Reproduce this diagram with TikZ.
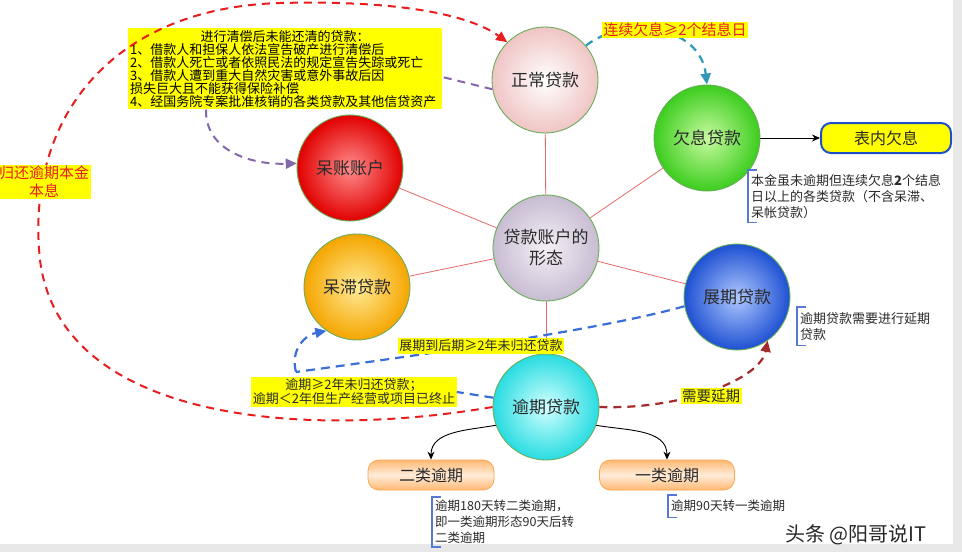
\documentclass[tikz,border=0pt]{standalone}
\usepackage{fontspec}
\setmainfont{Noto Sans CJK SC}
\usetikzlibrary{calc,arrows.meta}
\definecolor{txt}{HTML}{2A2A2A}
\definecolor{spoke}{HTML}{E46A6A}
\definecolor{rimg}{HTML}{6AAE5A}
\definecolor{yel}{HTML}{FFFF00}
\definecolor{redd}{HTML}{E81E1E}
\definecolor{teal2}{HTML}{2E98B8}
\definecolor{purp}{HTML}{8466AA}
\definecolor{blued}{HTML}{3A6ED8}
\definecolor{brownr}{HTML}{A52A2A}
\definecolor{brk}{HTML}{5878D8}
\definecolor{boxblue}{HTML}{2050C8}
\begin{document}
\begin{tikzpicture}[x=1pt,y=-1pt,
  orb/.style={circle, minimum size=106pt, inner sep=0pt, draw=rimg, line width=0.9pt,
     text=txt, align=center, font=\fontsize{17}{21}\selectfont},
  lbl/.style={fill=yel, inner sep=1.5pt, align=center, text=txt},
  ann/.style={anchor=north west, align=left, inner sep=3pt, text=txt, font=\fontsize{12.5}{16}\selectfont},
  brk/.style={draw=brk, line width=1.2pt},
  pill/.style={rounded corners=11pt, minimum height=30pt, draw=orange!70, line width=0.8pt,
     top color=orange!55, bottom color=orange!55, middle color=orange!15, text=txt,
     font=\fontsize{16}{18}\selectfont},
  spk/.style={draw=spoke, line width=0.8pt},
  tip/.style={-{Triangle[length=11pt,width=10pt]}}
]
\useasboundingbox (0,0) rectangle (962,552);
\fill[white] (0,0) rectangle (962,552);
\fill[gray!18] (0,544) rectangle (962,552);
\fill[gray!18] (953,0) rectangle (962,552);

% circles
\node[orb, inner color=white, outer color={rgb,255:red,240;green,196;blue,196}] (zc) at (545,80) {正常贷款};
\node[orb, inner color={rgb,255:red,200;green,250;blue,160}, outer color={rgb,255:red,60;green,205;blue,30}] (qx) at (707,138) {欠息贷款};
\node[orb, inner color={rgb,255:red,255;green,140;blue,140}, outer color={rgb,255:red,225;green,0;blue,0}] (ca) at (350,168) {呆账账户};
\node[orb, inner color={rgb,255:red,245;green,240;blue,246}, outer color={rgb,255:red,200;green,188;blue,210}] (xt) at (546,248) {贷款账户的\\形态};
\node[orb, inner color={rgb,255:red,255;green,235;blue,150}, outer color={rgb,255:red,245;green,165;blue,0}] (zd) at (357,287) {呆滞贷款};
\node[orb, inner color={rgb,255:red,175;green,200;blue,255}, outer color={rgb,255:red,30;green,80;blue,210}] (zq) at (737,297) {展期贷款};
\node[orb, inner color={rgb,255:red,210;green,255;blue,255}, outer color={rgb,255:red,40;green,220;blue,225}] (yq) at (546,407) {逾期贷款};

% spokes
\foreach \t in {zc,qx,ca,zd,zq,yq} \draw[spk] (xt) -- (\t);

% boxes
\node[fill=yel, inner sep=2pt, text width=310pt, align=left, text=black,
  font=\fontsize{13}{13}\selectfont, anchor=north west] (tb) at (128,28)
  {\makebox[\linewidth]{进行清偿后未能还清的贷款：}\\
   1、借款人和担保人依法宣告破产进行清偿后\\
   2、借款人死亡或者依照民法的规定宣告失踪或死亡\\
   3、借款人遭到重大自然灾害或意外事故后因\\
   损失巨大且不能获得保险补偿\\
   4、经国务院专案批准核销的各类贷款及其他信贷资产};
\node[lbl, font=\fontsize{13}{14}\selectfont] (yl) at (354,392)
  {逾期≥2年未归还贷款；\\逾期＜2年但生产经营或项目已终止};
\node[rounded corners=10pt, minimum width=130pt, minimum height=30pt, fill=yel, draw=boxblue,
  line width=2pt, text=txt, font=\fontsize{16}{18}\selectfont] (bn) at (886,138) {表内欠息};
\node[pill, minimum width=126pt] (e2) at (431,475) {二类逾期};
\node[pill, minimum width=135pt] (e1) at (667,475) {一类逾期};
\coordinate (mj) at (296,372);

% connectors
\draw[draw=redd, line width=2pt, dash pattern=on 8pt off 6pt, tip, color=redd]
  (yq.west) .. controls (300,440) and (60,420) .. (40,260)
            .. controls (25,120) and (110,8) .. (280,3)
            .. controls (400,0) and (470,15) .. (zc.north west);
\draw[purp, line width=2pt, dash pattern=on 8pt off 6pt] (zc.190) -- (tb.-3);
\draw[purp, line width=2pt, dash pattern=on 8pt off 6pt, tip]
  ($(tb.south west)+(78,0)$) .. controls (205,150) and (250,165) .. (ca.175);
\draw[teal2, line width=2.2pt, dash pattern=on 8pt off 6pt, tip]
  (zc.40) .. controls (625,15) and (700,25) .. (qx.north);
\draw[black, line width=1pt, -{Stealth[length=8pt,width=7pt]}] (qx.east) -- (bn.west);
\draw[brownr, line width=2.2pt, dash pattern=on 8pt off 6pt, tip]
  (yq.east) .. controls (680,410) and (760,380) .. (zq.-55);
\draw[blued, line width=2.2pt, dash pattern=on 9pt off 6pt]
  (zq.190) .. controls (600,330) and (420,355) .. (mj);
\draw[blued, line width=2.2pt, dash pattern=on 9pt off 6pt] (yq.170) -- (yl.east);
\draw[blued, line width=2.2pt, dash pattern=on 9pt off 6pt, tip]
  (mj) .. controls (290,350) and (305,335) .. (zd.-125);
\draw[black, line width=0.9pt, -{Stealth[length=8pt,width=7pt]}] (yq.-160) to[out=190,in=90] (e2.north);
\draw[black, line width=0.9pt, -{Stealth[length=8pt,width=7pt]}] (yq.-20) to[out=-10,in=90] (e1.north);

% labels on paths
\node[lbl, text=redd, font=\fontsize{15}{18}\selectfont] (lx) at (675,30) {连续欠息≥2个结息日};
\node[lbl, font=\fontsize{13}{15}\selectfont] (lz) at (481,346) {展期到后期≥2年未归还贷款};
\node[lbl, text=redd, font=\fontsize{15}{18}\selectfont] (lg) at (44,182) {归还逾期本金\\本息};
\node[lbl, font=\fontsize{14.5}{16}\selectfont] (ly) at (711,396) {需要延期};

% annotations
\node[ann, font=\fontsize{13}{16}\selectfont, minimum height=52pt] (a1) at (748,170)
  {本金虽未逾期但连续欠息\textbf{2}个结息\\日以上的各类贷款（不含呆滞、\\呆帐贷款）};
\node[ann, font=\fontsize{13}{16}\selectfont, minimum height=38pt] (a2) at (797,307)
  {逾期贷款需要进行延期\\贷款};
\node[ann, minimum height=47pt] (a3) at (432,497)
  {逾期180天转二类逾期，\\即一类逾期形态90天后转\\二类逾期};
\node[ann, minimum height=22pt] (a4) at (668,495) {逾期90天转一类逾期};
\foreach \a in {a1,a2,a3,a4}
  \draw[brk] ([xshift=9pt]\a.north west) -- (\a.north west) -- (\a.south west) -- ([xshift=9pt]\a.south west);

% watermark
\node[text={rgb,255:red,40;green,40;blue,40}, font=\fontsize{20}{22}\selectfont] (wm) at (856,535) {头条 @阳哥说IT};
\end{tikzpicture}
\end{document}
